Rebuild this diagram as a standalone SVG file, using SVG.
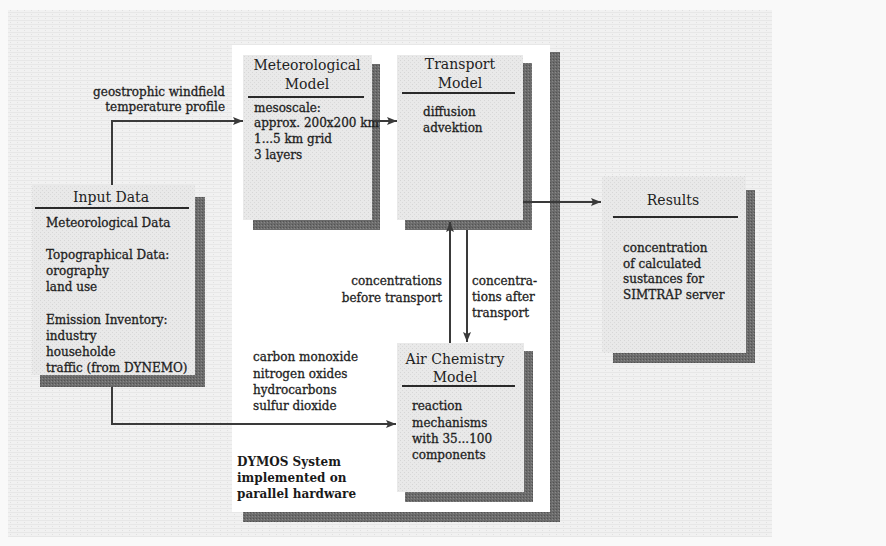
<svg xmlns="http://www.w3.org/2000/svg" width="886" height="546" viewBox="0 0 886 546">
  <defs>
    <pattern id="paper" width="7" height="4" patternUnits="userSpaceOnUse">
      <rect width="7" height="4" fill="#f1f1f1"/>
      <rect y="0" width="7" height="1" fill="#e7e7e7"/>
      <rect x="3" y="2" width="1" height="1" fill="#e0e0e0"/>
    </pattern>
    <pattern id="boxfill" width="4" height="4" patternUnits="userSpaceOnUse">
      <rect width="4" height="4" fill="#e9e9e9"/>
      <rect x="0" y="0" width="1" height="1" fill="#d6d6d6"/>
      <rect x="2" y="2" width="1" height="1" fill="#dadada"/>
    </pattern>
    <pattern id="shade" width="3" height="3" patternUnits="userSpaceOnUse">
      <rect width="3" height="3" fill="#6c6c6c"/>
      <rect x="0" y="0" width="1" height="1" fill="#888888"/>
      <rect x="1" y="2" width="1" height="1" fill="#525252"/>
    </pattern>
    <marker id="arr" markerUnits="userSpaceOnUse" markerWidth="10" markerHeight="8" refX="10" refY="4" orient="auto">
      <path d="M0,0 L10,4 L0,8 L2,4 z" fill="#3a3a3a"/>
    </marker>
  </defs>
  <style>
    .title { font-family: "DejaVu Serif", "Liberation Serif", serif; font-size: 14px; fill: #222; text-anchor: middle; }
    .body { font-family: "DejaVu Serif", "Liberation Serif", serif; font-size: 12px; fill: #1e1e1e; stroke: #1e1e1e; stroke-width: 0.3; }
    .bold { font-family: "DejaVu Serif", "Liberation Serif", serif; font-size: 12px; font-weight: bold; fill: #1a1a1a; }
    .shadow { fill: url(#shade); }
    .box { fill: url(#boxfill); }
    .hline { stroke: #2a2a2a; stroke-width: 2; }
    .conn { fill: none; stroke: #3a3a3a; stroke-width: 2; }
  </style>

  <!-- page background -->
  <rect x="0" y="0" width="886" height="546" fill="#f9f9f9"/>
  <rect x="8" y="10" width="764" height="527" fill="url(#paper)"/>
  <!-- DYMOS system area -->
  <rect x="232" y="45" width="318" height="467" fill="#ffffff"/>
  <g id="frame">
    <rect class="shadow" x="550" y="52" width="10" height="470"/>
    <rect class="shadow" x="243" y="512" width="317" height="10"/>
  </g>

  <g id="input-data">
    <rect class="shadow" x="40" y="197" width="165" height="190"/>
    <rect class="box" x="32" y="185" width="163" height="190"/>
    <text class="title" x="111" y="202">Input Data</text>
    <line class="hline" x1="35" y1="208" x2="189" y2="208"/>
    <text class="body" x="46" y="227">Meteorological Data</text>
    <text class="body" x="46" y="259">Topographical Data:</text>
    <text class="body" x="46" y="275">orography</text>
    <text class="body" x="46" y="291">land use</text>
    <text class="body" x="46" y="324">Emission Inventory:</text>
    <text class="body" x="46" y="340">industry</text>
    <text class="body" x="46" y="356">householde</text>
    <text class="body" x="46" y="372">traffic (from DYNEMO)</text>
  </g>

  <g id="meteorological-model">
    <rect class="shadow" x="253" y="64" width="127" height="166"/>
    <rect class="box" x="243" y="55" width="129" height="165"/>
    <text class="title" x="307" y="70">Meteorological</text>
    <text class="title" x="307" y="89">Model</text>
    <line class="hline" x1="248" y1="97" x2="364" y2="97"/>
    <text class="body" x="254" y="112">mesoscale:</text>
    <text class="body" x="254" y="127">approx. 200x200 km</text>
    <text class="body" x="254" y="143">1...5 km grid</text>
    <text class="body" x="254" y="159">3 layers</text>
  </g>

  <g id="transport-model">
    <rect class="shadow" x="405" y="63" width="127" height="167"/>
    <rect class="box" x="397" y="55" width="126" height="165"/>
    <text class="title" x="460" y="69">Transport</text>
    <text class="title" x="460" y="88">Model</text>
    <line class="hline" x1="402" y1="93" x2="515" y2="93"/>
    <text class="body" x="423" y="116">diffusion</text>
    <text class="body" x="423" y="132">advektion</text>
  </g>

  <g id="air-chemistry-model">
    <rect class="shadow" x="405" y="351" width="128" height="151"/>
    <rect class="box" x="397" y="343" width="127" height="149"/>
    <text class="title" x="455" y="364">Air Chemistry</text>
    <text class="title" x="455" y="382">Model</text>
    <line class="hline" x1="402" y1="386" x2="515" y2="386"/>
    <text class="body" x="412" y="410">reaction</text>
    <text class="body" x="412" y="427">mechanisms</text>
    <text class="body" x="412" y="443">with 35...100</text>
    <text class="body" x="412" y="459">components</text>
  </g>

  <g id="results">
    <rect class="shadow" x="613" y="190" width="142" height="173"/>
    <rect class="box" x="602" y="176" width="144" height="177"/>
    <text class="title" x="673" y="205">Results</text>
    <line class="hline" x1="613" y1="217" x2="738" y2="217"/>
    <text class="body" x="623" y="252">concentration</text>
    <text class="body" x="623" y="268">of calculated</text>
    <text class="body" x="623" y="283">sustances for</text>
    <text class="body" x="623" y="299">SIMTRAP server</text>
  </g>

  <g id="connectors">
    <path class="conn" d="M112,185 V121 H243" marker-end="url(#arr)"/>
    <path class="conn" d="M374,121 H397" marker-end="url(#arr)"/>
    <path class="conn" d="M523,202 H601" marker-end="url(#arr)"/>
    <path class="conn" d="M450,343 V222" marker-end="url(#arr)"/>
    <path class="conn" d="M467,230 V342" marker-end="url(#arr)"/>
    <path class="conn" d="M112,387 V424 H396" marker-end="url(#arr)"/>
  </g>

  <g id="labels">
    <text class="body" x="225" y="96" text-anchor="end">geostrophic windfield</text>
    <text class="body" x="225" y="111" text-anchor="end">temperature profile</text>
    <text class="body" x="442" y="285" text-anchor="end">concentrations</text>
    <text class="body" x="442" y="302" text-anchor="end">before transport</text>
    <text class="body" x="472" y="285">concentra-</text>
    <text class="body" x="472" y="301">tions after</text>
    <text class="body" x="472" y="317">transport</text>
    <text class="body" x="253" y="361">carbon monoxide</text>
    <text class="body" x="253" y="378">nitrogen oxides</text>
    <text class="body" x="253" y="394">hydrocarbons</text>
    <text class="body" x="253" y="410">sulfur dioxide</text>
    <text class="bold" x="237" y="466">DYMOS System</text>
    <text class="bold" x="237" y="482">implemented on</text>
    <text class="bold" x="237" y="498">parallel hardware</text>
  </g>
</svg>
